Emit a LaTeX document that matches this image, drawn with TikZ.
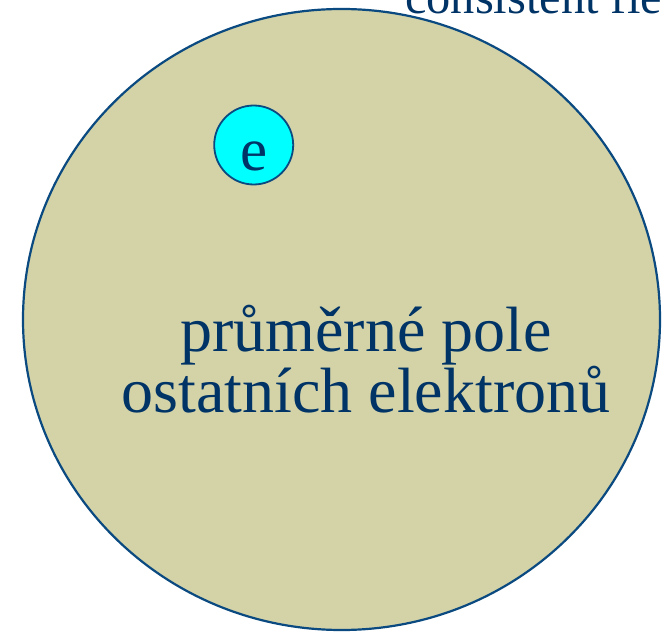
\documentclass[tikz,border=0pt]{standalone}
\usepackage{fontspec}
\setmainfont{Liberation Serif}
\usetikzlibrary{shapes.geometric}
\definecolor{navy}{HTML}{003366}
\definecolor{rimblue}{HTML}{0A4A80}
\definecolor{khaki}{HTML}{D4D3A8}
\definecolor{cyanfill}{HTML}{00FFFF}
\begin{document}
\begin{tikzpicture}[x=1pt,y=1pt,
  fieldstyle/.style={ellipse, draw=rimblue, fill=khaki, line width=2.2pt, inner sep=0pt},
  electron/.style={circle, draw=rimblue, fill=cyanfill, line width=1.8pt, inner sep=0pt, minimum size=79pt},
  labeltext/.style={text=navy, font=\fontsize{64}{61}\selectfont, align=center}]
\useasboundingbox (0,0) rectangle (662,633);
\clip (0,0) rectangle (662,633);
\node[fieldstyle, minimum width=637pt, minimum height=621pt] (field) at (341.5,313.5) {};
\node[electron] (e) at (253.7,488) {};
\node[text=navy, font=\fontsize{61}{61}\selectfont, anchor=base] (elabel) at (254,462) {e};
\node[labeltext, anchor=base] (line1) at (366,281) {průměrné pole};
\node[labeltext, anchor=base] (line2) at (366,220) {ostatních elektronů};
\node[text=navy, font=\fontsize{48.4}{50}\selectfont, anchor=base west, inner sep=0pt] (title) at (405,619) {consistent field};
\end{tikzpicture}
\end{document}
